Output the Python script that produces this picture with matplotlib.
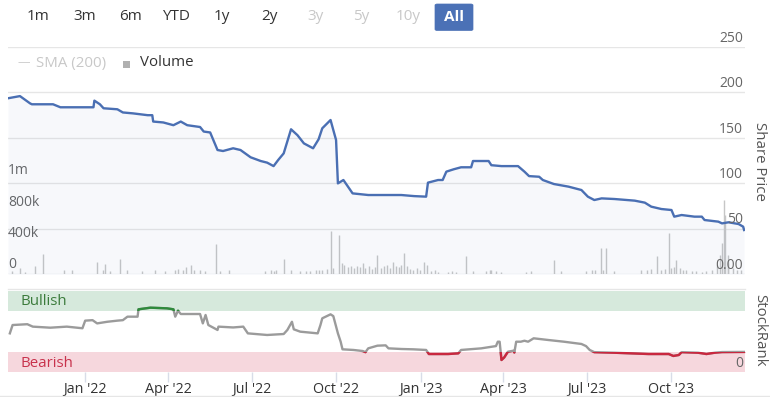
import numpy as np
import matplotlib
matplotlib.use('Agg')
import matplotlib.pyplot as plt
import matplotlib.dates as mdates
import matplotlib.transforms as mtransforms
from matplotlib.patches import Rectangle, FancyBboxPatch
from matplotlib.lines import Line2D

plt.rcParams['font.family'] = ['Open Sans', 'DejaVu Sans']

# ---------------- data ----------------
START = np.datetime64('2021-10-09')
END = np.datetime64('2023-12-20')

# share price: day offset from START, price
price_day = [0, 13, 24, 26, 49, 57, 93, 94, 100, 104, 119, 125, 136, 152, 157, 158,
             169, 180, 188, 195, 209, 213, 220, 228, 234, 245, 253, 264, 275, 282,
             289, 294, 300, 308, 315, 322, 332, 338, 342, 351, 357, 359, 365, 375,
             392, 428, 442, 455, 457, 468, 473, 477, 485, 493, 504, 506, 523, 526,
             537, 555, 562, 567, 578, 582, 594, 610, 624, 631, 638, 646, 660, 682,
             693, 700, 711, 722, 725, 733, 747, 755, 758, 773, 777, 784, 795, 800, 801]
price_val = [193.6, 196, 188, 187, 187, 183.7, 183.7, 191, 187, 182.6, 181.5, 178, 177,
             175, 175, 168, 167, 164, 168, 164, 162, 157, 156, 136.7, 135.6, 138.6,
             136.7, 128.7, 124.6, 122.8, 119, 125.7, 133, 159.5, 153, 144, 138.6,
             148.5, 160.6, 169.7, 147.7, 100, 103.7, 89, 87.2, 87.2, 86, 85.4, 100.8,
             103.7, 103.7, 112.9, 115.5, 117.7, 117.7, 124.6, 124.6, 120, 119, 119,
             112.9, 108, 107.3, 103.7, 99.3, 96.4, 92.7, 85.4, 81.7, 83.5, 82.8, 81,
             78.8, 74.4, 71.8, 70.7, 63.4, 65.2, 63.4, 63.4, 59.7, 57.9, 56, 57.2,
             55.3, 52.4, 48.7]

# volume (thousands): day offset from START, volume
vol_day = [4, 13, 19, 29, 38, 61, 70, 97, 103, 106, 111, 122, 129, 146, 160, 171, 182,
           185, 190, 194, 199, 202, 209, 214, 226, 231, 240, 280, 286, 289, 292, 300,
           308, 318, 324, 329, 335, 338, 342, 347, 351, 354, 360, 363, 366, 370, 373,
           376, 380, 383, 386, 389, 393, 396, 399, 402, 406, 409, 412, 416, 419, 422,
           425, 428, 431, 434, 437, 441, 445, 448, 453, 456, 460, 465, 468, 479, 483,
           488, 498, 506, 520, 524, 526, 531, 537, 564, 569, 594, 602, 629, 635, 639,
           645, 648, 651, 659, 689, 695, 700, 706, 711, 715, 719, 722, 725, 727, 731,
           734, 738, 744, 749, 755, 760, 766, 772, 775, 777, 779, 780, 783, 784, 789,
           793, 798]
vol_val = [40, 80, 30, 106, 260, 50, 60, 160, 60, 130, 40, 190, 60, 40, 60, 40, 50,
           70, 60, 90, 120, 50, 50, 40, 390, 40, 60, 40, 50, 40, 50, 195,
           60, 40, 40, 40, 60, 50, 60, 70, 555, 80, 505, 150, 120, 90, 110,
           80, 100, 90, 150, 80, 100, 70, 90, 250, 80, 110, 120, 80, 160, 100,
           90, 120, 277, 110, 70, 60, 80, 50, 160, 120, 40, 50, 30, 30, 40,
           30, 235, 40, 40, 60, 50, 40, 30, 30, 40, 183, 40, 40, 60, 50,
           333, 60, 340, 40, 50, 60, 70, 235, 60, 70, 533, 80, 90, 183, 80,
           60, 50, 40, 40, 30, 40, 50, 120, 250, 400, 950, 760, 150, 250, 80,
           60, 50]

# StockRank: day offset from START, rank
rank_day = [2, 5, 21, 27, 46, 64, 81, 84, 92, 97, 108, 119, 125, 130, 141, 142, 155,
            173, 180, 182, 185, 188, 209, 212, 215, 218, 228, 229, 245, 256, 261, 282,
            300, 304, 309, 311, 318, 337, 340, 342, 351, 354, 359, 362, 364, 376, 386,
            389, 392, 402, 411, 414, 428, 441, 455, 458, 479, 490, 493, 515, 531, 533,
            535, 537, 540, 544, 550, 551, 553, 558, 562, 566, 572, 588, 605, 624, 629,
            633, 638, 660, 697, 719, 724, 730, 733, 751, 760, 769, 777, 801]
rank_val = [47.7, 58, 59, 56, 54.7, 56, 54, 63.4, 64, 60, 62, 63.4, 64, 68.3, 68.3,
            77.4, 79.4, 78.6, 77.4, 68.3, 75.7, 71.6, 71.6, 60, 70.4, 58, 51.9, 56, 55,
            56, 47.7, 45.7, 46.9, 51.9, 62, 52.7, 49.8, 47.7, 58, 66.3, 71.2, 69, 47.7,
            37.4, 28, 27.2, 25.9, 24.5, 29.2, 32.5, 32.9, 29.2, 28.4, 28, 27.2, 22.2,
            22.2, 23, 27.2, 29.2, 32, 37.4, 37.4, 14.8, 18, 25, 26.3, 24, 37.4, 37.4,
            38.6, 37.4, 41.6, 39.5, 37.4, 34.6, 32, 27.2, 24.5, 23.8, 22.2, 22.2, 19.8,
            21, 24.5, 23.8, 22.2, 23.8, 24.6, 24.8]

range_buttons = ['1m', '3m', '6m', 'YTD', '1y', '2y', '3y', '5y', '10y', 'All']
button_enabled = [True, True, True, True, True, True, False, False, False, True]
price_ticks = [0, 50, 100, 150, 200, 250]
price_tick_labels = ['0.00', '50', '100', '150', '200', '250']
vol_ticks = [0, 400, 800, 1200]
vol_tick_labels = ['0', '400k', '800k', '1m']
date_ticks = ['2022-01-01', '2022-04-01', '2022-07-01', '2022-10-01',
              '2023-01-01', '2023-04-01', '2023-07-01', '2023-10-01']
BULL_LEVEL = 75
BEAR_LEVEL = 25

# ---------------- helpers ----------------
W, H = 770, 397


def fx(x):
    return x / W


def fy(y):
    return 1 - y / H


def days_to_dates(days):
    return START + np.array(days, dtype='timedelta64[D]')


p_dates = days_to_dates(price_day)
v_dates = days_to_dates(vol_day)
r_dates = days_to_dates(rank_day)

fig = plt.figure(figsize=(W / 100, H / 100), dpi=100)

L, R = 8, 745
P_TOP, P_BOT = 47, 274.3
S_TOP, S_BOT = 291, 372
TICK_FS = 10

# volume axis (drawn first), price axis on twin
ax_vol = fig.add_axes([fx(L), fy(P_BOT), (R - L) / W, (P_BOT - P_TOP) / H])
ax_price = ax_vol.twinx()

ax_vol.set_xlim(START, END)
ax_vol.set_ylim(0, 2910)
ax_price.set_ylim(0, 250)

for v in price_ticks:
    ax_vol.axhline(v / 250 * 2910, color='#e6e6e6', lw=1, zorder=0)

ax_vol.vlines(v_dates, 0, vol_val, color='#c6c6c6', lw=1, zorder=2)

ax_price.fill_between(p_dates, price_val, 0, color='#4a70b5', alpha=0.045, lw=0, zorder=1)
ax_price.plot(p_dates, price_val, color='#4a6fb3', lw=1.7, zorder=3,
              solid_joinstyle='round')

for a in (ax_vol, ax_price):
    for s in a.spines.values():
        s.set_visible(False)
    a.set_xticks([])
    a.set_yticks([])

for v, lab in zip(price_ticks, price_tick_labels):
    ax_price.annotate(lab, xy=(1, v), xycoords=('axes fraction', 'data'),
                      xytext=(-1.5, 1), textcoords='offset points',
                      ha='right', va='bottom', fontsize=TICK_FS, color='#666666')
for v, lab in zip(vol_ticks, vol_tick_labels):
    ax_vol.annotate(lab, xy=(0, v), xycoords=('axes fraction', 'data'),
                    xytext=(0, 1.5), textcoords='offset points',
                    ha='left', va='bottom', fontsize=TICK_FS, color='#666666')

fig.text(fx(760), fy(161), 'Share Price', rotation=-90, ha='center', va='center',
         fontsize=10.8, color='#555555')

# StockRank panel
ax_sr = fig.add_axes([fx(L), fy(S_BOT), (R - L) / W, (S_BOT - S_TOP) / H])
ax_sr.set_xlim(START, END)
ax_sr.set_ylim(0, 100)
ax_sr.axhspan(BULL_LEVEL, 100, color='#d6e9dc', lw=0, zorder=0)
ax_sr.axhspan(0, BEAR_LEVEL, color='#f6d7dd', lw=0, zorder=0)
for s in ax_sr.spines.values():
    s.set_visible(False)
ax_sr.set_yticks([])

xn0 = mdates.date2num(START) - 50
ax_sr.plot(r_dates, rank_val, color='#9b9b9b', lw=1.7, zorder=2)
line_g, = ax_sr.plot(r_dates, rank_val, color='#2f8a3c', lw=1.7, zorder=3)
line_g.set_clip_path(Rectangle((xn0, BULL_LEVEL), 2000, 200, transform=ax_sr.transData))
line_r, = ax_sr.plot(r_dates, rank_val, color='#c9283f', lw=1.7, zorder=3)
line_r.set_clip_path(Rectangle((xn0, -100), 2000, 100 + BEAR_LEVEL, transform=ax_sr.transData))

blend = mtransforms.blended_transform_factory(ax_sr.transAxes, ax_sr.transData)
ax_sr.text(12 / (R - L), 87.5, 'Bullish', transform=blend,
           ha='left', va='center', fontsize=10.8, color='#3b7b3b')
ax_sr.text(12 / (R - L), 11, 'Bearish', transform=blend,
           ha='left', va='center', fontsize=10.8, color='#c8324c')
ax_sr.annotate('0', xy=(1, 0), xycoords=('axes fraction', 'data'),
               xytext=(-1.5, 1), textcoords='offset points',
               ha='right', va='bottom', fontsize=TICK_FS, color='#666666')

ax_sr.set_xticks([np.datetime64(d) for d in date_ticks])
ax_sr.xaxis.set_major_formatter(mdates.DateFormatter("%b '%y"))
ax_sr.tick_params(axis='x', length=7, width=1, color='#d8dde8', labelsize=10.3,
                  labelcolor='#333333', pad=0.5)

fig.text(fx(760), fy(330), 'StockRank', rotation=-90, ha='center', va='center',
         fontsize=10.8, color='#555555')

# separators
fig.add_artist(Line2D([fx(L), fx(R)], [fy(289), fy(289)], color='#e6e6e6', lw=1))
fig.add_artist(Line2D([0, 1], [fy(395.5), fy(395.5)], color='#e6e6e6', lw=1))

# range selector buttons
BTN_FS = 11
btn_x = [38, 85, 130, 176, 222, 269, 316, 361, 408, 454]
for lab, en, x in zip(range_buttons, button_enabled, btn_x):
    if lab == 'All':
        fig.add_artist(FancyBboxPatch((fx(435), fy(30.5)), fx(38), 26.5 / H,
                                      boxstyle='round,pad=0,rounding_size=0.003',
                                      fc='#4b71b6', ec='#4b71b6', lw=0.5))
        fig.text(fx(x), fy(17), lab, ha='center', va='center', fontsize=BTN_FS,
                 color='white', fontweight='bold')
    else:
        fig.text(fx(x), fy(17), lab, ha='center', va='center', fontsize=BTN_FS,
                 color='#333333' if en else '#c8c8c8')

# legend
fig.text(fx(18), fy(63), '\u2014', ha='left', va='center', fontsize=9, color='#cccccc')
fig.text(fx(36), fy(63), 'SMA (200)', ha='left', va='center', fontsize=10.8, color='#c8c8c8')
fig.add_artist(Rectangle((fx(123), fy(68)), fx(7), 7 / H, fc='#b0b0b0', ec='none'))
fig.text(fx(140), fy(63), 'Volume', ha='left', va='center', fontsize=10.8, color='#333333')

fig.savefig('out.png', dpi=100)
